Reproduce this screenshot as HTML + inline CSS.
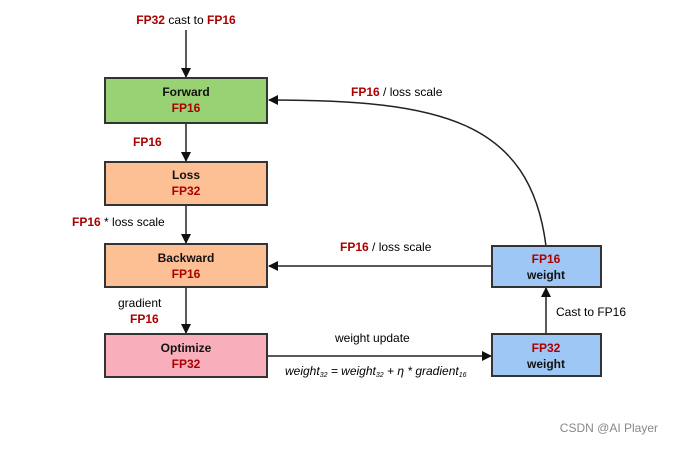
<!DOCTYPE html>
<html><head><style>
body{margin:0;background:#fff;}
svg text{font-family:"Liberation Sans",sans-serif;font-size:12px;}
</style></head><body>
<svg width="673" height="444" viewBox="0 0 673 444" xmlns="http://www.w3.org/2000/svg">
<defs><marker id="a" markerWidth="10" markerHeight="10" refX="9" refY="5" orient="auto" markerUnits="userSpaceOnUse"><path d="M0,0L10,5L0,10z" fill="#111"/></marker></defs>
<g stroke="#222" stroke-width="1.5" fill="none">
<line x1="186" y1="30" x2="186" y2="77" marker-end="url(#a)"/>
<line x1="186" y1="123" x2="186" y2="161" marker-end="url(#a)"/>
<line x1="186" y1="205" x2="186" y2="243" marker-end="url(#a)"/>
<line x1="186" y1="287" x2="186" y2="333" marker-end="url(#a)"/>
<line x1="268" y1="356" x2="491" y2="356" marker-end="url(#a)"/>
<line x1="546" y1="334" x2="546" y2="288" marker-end="url(#a)"/>
<line x1="492" y1="266" x2="269" y2="266" marker-end="url(#a)"/>
<path d="M546,246 C530,120 440,100 269,100" marker-end="url(#a)"/>
</g>
<g stroke="#333" stroke-width="2">
<rect x="105" y="78" width="162" height="45" fill="#99d275"/>
<rect x="105" y="162" width="162" height="43" fill="#fdbf94"/>
<rect x="105" y="244" width="162" height="43" fill="#fdbf94"/>
<rect x="105" y="334" width="162" height="43" fill="#f8aebb"/>
<rect x="492" y="246" width="109" height="41" fill="#9fc7f6"/>
<rect x="492" y="334" width="109" height="42" fill="#9fc7f6"/>
</g>
<g font-weight="bold" text-anchor="middle">
<text x="186" y="96" fill="#111">Forward</text><text x="186" y="112" fill="#a00">FP16</text>
<text x="186" y="179" fill="#111">Loss</text><text x="186" y="195" fill="#a00">FP32</text>
<text x="186" y="262" fill="#111">Backward</text><text x="186" y="278" fill="#a00">FP16</text>
<text x="186" y="352" fill="#111">Optimize</text><text x="186" y="368" fill="#a00">FP32</text>
<text x="546" y="263" fill="#a00">FP16</text><text x="546" y="279" fill="#111">weight</text>
<text x="546" y="352" fill="#a00">FP32</text><text x="546" y="368" fill="#111">weight</text>
</g>
<text x="186" y="24" text-anchor="middle"><tspan fill="#a00" font-weight="bold">FP32</tspan> cast to <tspan fill="#a00" font-weight="bold">FP16</tspan></text>
<text x="133" y="146" fill="#a00" font-weight="bold">FP16</text>
<text x="72" y="226"><tspan fill="#a00" font-weight="bold">FP16</tspan> * loss scale</text>
<text x="118" y="307">gradient</text>
<text x="130" y="323" fill="#a00" font-weight="bold">FP16</text>
<text x="351" y="96"><tspan fill="#a00" font-weight="bold">FP16</tspan> / loss scale</text>
<text x="340" y="251"><tspan fill="#a00" font-weight="bold">FP16</tspan> / loss scale</text>
<text x="556" y="316">Cast to FP16</text>
<text x="335" y="342">weight update</text>
<text x="285" y="375" font-family="Liberation Serif,serif" font-style="italic" font-size="11">weight<tspan font-size="7" dy="2">32</tspan><tspan dy="-2"> = weight</tspan><tspan font-size="7" dy="2">32</tspan><tspan dy="-2"> + η * gradient</tspan><tspan font-size="7" dy="2">16</tspan></text>
<text x="658" y="432" text-anchor="end" fill="#888" font-size="12">CSDN @AI Player</text>
</svg>
</body></html>
